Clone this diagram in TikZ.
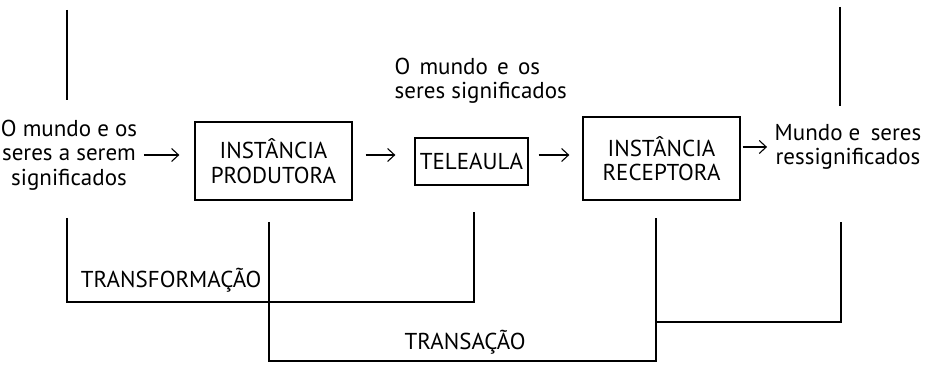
\documentclass[tikz,border=0pt]{standalone}
\usepackage{fontspec}
\setmainfont{PT Sans}
\usetikzlibrary{arrows.meta}

\begin{document}
\begin{tikzpicture}[x=1pt,y=1pt,line width=1.3pt,
    every node/.style={font=\fontsize{23}{24.5}\selectfont},
    caixa/.style={draw,rectangle,inner sep=0pt,align=center},
    texto/.style={align=center,inner sep=0pt},
    seta/.style={-{Straight Barb[length=7pt,width=13pt]},line width=1.1pt}]
      \useasboundingbox (0,0) rectangle (929,366);
      % entrada e saida
      \node[texto] (mundo) at (69,211) {O mundo e os\\seres a serem\\significados};
      \node[texto] (destino) at (848,219) {Mundo e\hspace{0.45em}seres\\ressignificados};
      \node[texto,align=left,anchor=west] (signif) at (394,285)
        {O\hspace{0.4em}mundo\hspace{0.4em}e\hspace{0.4em}os\\seres significados};
      % instancias
      \node[caixa,minimum width=157,minimum height=78] (produtora) at (273.5,205)
        {INSTÂNCIA\\PRODUTORA};
      \node[caixa,minimum width=113,minimum height=47] (teleaula) at (471.5,204.5)
        {TELEAULA};
      \node[caixa,minimum width=157,minimum height=83] (receptora) at (661.5,207.5)
        {INSTÂNCIA\\RECEPTORA};
      % setas
      \draw[seta,shorten <=6pt,shorten >=15pt] (mundo.east) -- (mundo.east -| produtora.west);
      \draw[seta,shorten <=13pt,shorten >=19pt] (produtora.east |- mundo) -- (teleaula.west |- mundo);
      \draw[seta,shorten <=10pt,shorten >=13pt] (teleaula.east |- mundo) -- (receptora.west |- mundo);
      \draw[seta,shorten <=2pt,shorten >=7pt] (receptora.east |- destino) -- (destino.west);
      % linhas de cima
      \coordinate (c1) at (67,356);
      \coordinate (c2) at (67,266);
      \coordinate (c3) at (840,359);
      \coordinate (c4) at (840,260);
      \draw (c1) -- (c2);
      \draw (c3) -- (c4);
      % transformacao
      \coordinate (t1) at (67,148);
      \coordinate (t2) at (474,64);
      \coordinate (t3) at (474,154);
      \draw (t1) |- (t2) -- (t3);
      \node[texto,anchor=east] (transf) at (262,86) {TRANSFORMAÇÃO};
      % transacao
      \coordinate (r1) at (269,144);
      \coordinate (r2) at (656,5);
      \coordinate (r3) at (656,148);
      \draw (r1) |- (r2) -- (r3);
      \coordinate (r4) at (656,44);
      \coordinate (r5) at (841,144);
      \draw (r4) -| (r5);
      \node[texto] (transa) at (465,24) {TRANSAÇÃO};
    \end{tikzpicture}
\end{document}
